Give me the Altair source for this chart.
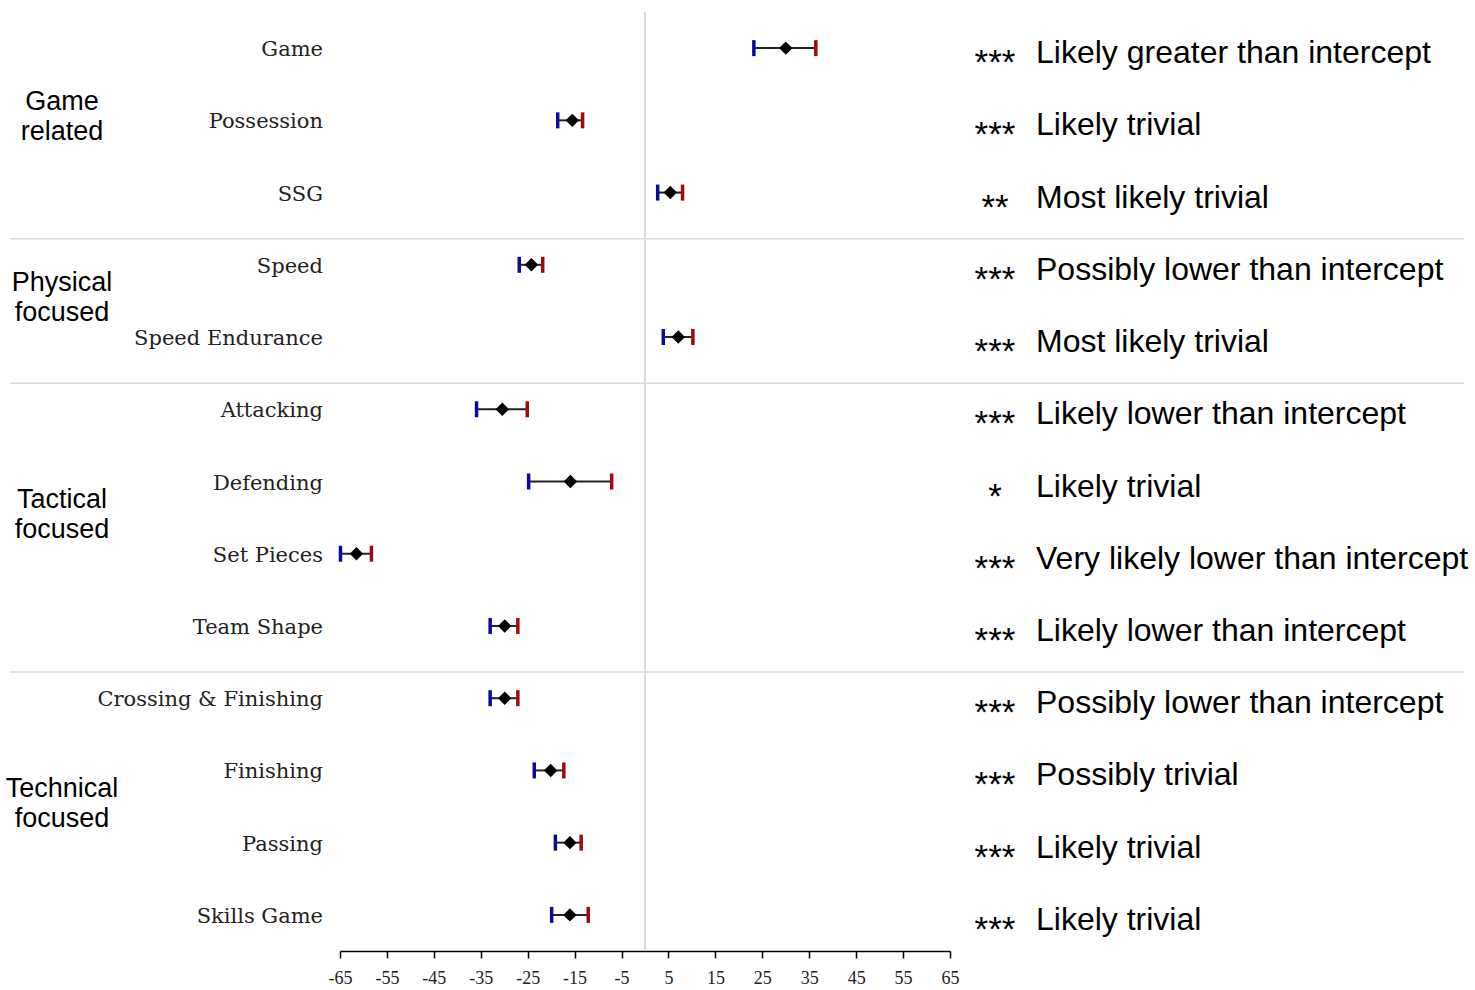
import altair as alt
import pandas as pd

# Drill categories, grouped in display order
groups = ["Game related", "Physical focused", "Tactical focused", "Technical focused"]
group_sizes = [3, 2, 4, 4]
drills = [
    "Game", "Possession", "SSG",
    "Speed", "Speed Endurance",
    "Attacking", "Defending", "Set Pieces", "Team Shape",
    "Crossing & Finishing", "Finishing", "Passing", "Skills Game",
]

# Effect estimates (% difference vs intercept) with 90% confidence limits
estimate = [30.0, -15.5, 5.4, -24.2, 7.1, -30.4, -15.9, -61.5, -29.9, -29.9, -20.1, -16.0, -16.0]
ci_lower = [23.2, -18.6, 2.7, -26.8, 3.9, -35.9, -24.8, -64.9, -33.0, -33.0, -23.6, -19.1, -19.9]
ci_upper = [36.4, -13.3, 8.0, -21.8, 10.2, -25.1, -7.1, -58.3, -27.1, -27.1, -17.3, -13.6, -12.1]

stars = ["***", "***", "**", "***", "***", "***", "*", "***", "***", "***", "***", "***", "***"]
verdicts = [
    "Likely greater than intercept",
    "Likely trivial",
    "Most likely trivial",
    "Possibly lower than intercept",
    "Most likely trivial",
    "Likely lower than intercept",
    "Likely trivial",
    "Very likely lower than intercept",
    "Likely lower than intercept",
    "Possibly lower than intercept",
    "Possibly trivial",
    "Likely trivial",
    "Likely trivial",
]

x_ticks = [-65, -55, -45, -35, -25, -15, -5, 5, 15, 25, 35, 45, 55, 65]

rows = pd.DataFrame({
    "row": list(range(len(drills))),
    "drill": drills,
    "est": estimate,
    "lo": ci_lower,
    "hi": ci_upper,
    "stars": stars,
    "verdict": verdicts,
})

# group label positions (centre of each block) and separators between blocks
starts, bounds = [], []
acc = 0
for n in group_sizes:
    starts.append(acc)
    acc += n
    bounds.append(acc - 0.5)
group_df = pd.DataFrame({
    "group": groups,
    "gy": [s + (n - 1) / 2 for s, n in zip(starts, group_sizes)],
})
sep_df = pd.DataFrame({"sep": bounds[:-1]})
zero_df = pd.DataFrame({"x": [0]})

x_scale = alt.Scale(domain=[-65, 65], nice=False, zero=False)
x_axis = alt.Axis(
    values=x_ticks, title=None, grid=False,
    labelExpr="'' + datum.value",
    domainColor="black", domainWidth=1.5,
    tickColor="black", tickWidth=1.5, tickSize=7,
    labelFont="Liberation Serif", labelFontSize=18, labelColor="#222",
    labelPadding=11, labelFlush=False, labelOverlap=False,
)
y_scale = alt.Scale(domain=[-0.5, 12.5], reverse=True, nice=False, zero=False)


def X(field):
    return alt.X(field, type="quantitative", scale=x_scale, axis=x_axis)


def Y(field):
    return alt.Y(field, type="quantitative", scale=y_scale, axis=None)


zero_line = alt.Chart(zero_df).mark_rule(color="#d9d9d9", strokeWidth=2).encode(x=X("x"))

separators = alt.Chart(sep_df).mark_rule(color="#dcdcdc", strokeWidth=1.5, yOffset=10).encode(
    y=Y("sep"), x=alt.value(-330), x2=alt.value(1124)
)

ci_line = alt.Chart(rows).mark_rule(color="#222", strokeWidth=2).encode(
    x=X("lo"), x2="hi", y=Y("row")
)

low_cap = alt.Chart(rows).mark_tick(
    orient="vertical", color="#0a0aa0", thickness=3.5, size=16, opacity=1
).encode(x=X("lo"), y=Y("row"))
high_cap = alt.Chart(rows).mark_tick(
    orient="vertical", color="#a00a0a", thickness=3.5, size=16, opacity=1
).encode(x=X("hi"), y=Y("row"))

points = alt.Chart(rows).mark_point(shape="diamond", filled=True, color="black", opacity=1, size=180).encode(
    x=X("est"), y=Y("row")
)

drill_labels = alt.Chart(rows).mark_text(
    align="right", baseline="middle", font="DejaVu Serif", fontSize=21, color="#222", dy=2
).encode(y=Y("row"), x=alt.value(-17), text="drill:N")

group_labels = alt.Chart(group_df).mark_text(
    align="center", baseline="middle", font="Liberation Sans", fontSize=27,
    lineBreak=" ", lineHeight=30, color="black", dy=-18
).encode(y=Y("gy"), x=alt.value(-278), text="group:N")

star_labels = alt.Chart(rows).mark_text(
    align="center", baseline="middle", font="Liberation Sans", fontSize=35, color="black", dy=15
).encode(y=Y("row"), x=alt.value(655), text="stars:N")

verdict_labels = alt.Chart(rows).mark_text(
    align="left", baseline="middle", font="Liberation Sans", fontSize=32, color="black", dy=5
).encode(y=Y("row"), x=alt.value(696), text="verdict:N")

chart = alt.layer(
    zero_line, separators, ci_line, low_cap, high_cap, points,
    drill_labels, group_labels, star_labels, verdict_labels,
).properties(
    width=610,
    height=939,
    autosize=alt.AutoSizeParams(type="none"),
    padding={"left": 340, "top": 12, "right": 525, "bottom": 39},
    background="white",
).configure_view(stroke=None)

chart.save("out.html", embed_options={"renderer": "svg", "actions": False})
